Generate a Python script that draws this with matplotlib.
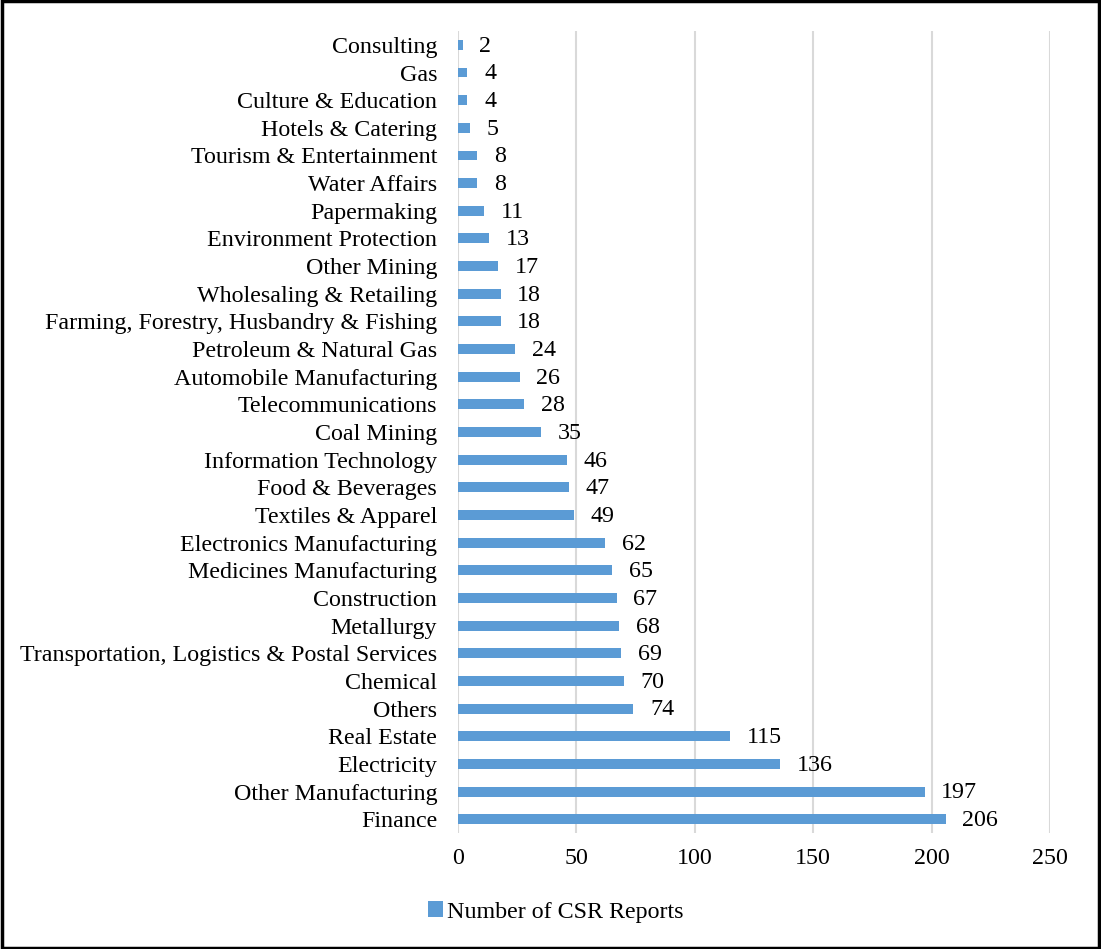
import matplotlib.pyplot as plt
from matplotlib.patches import Rectangle

industries = [
    "Finance", "Other Manufacturing", "Electricity", "Real Estate", "Others",
    "Chemical", "Transportation, Logistics & Postal Services", "Metallurgy",
    "Construction", "Medicines Manufacturing", "Electronics Manufacturing",
    "Textiles & Apparel", "Food & Beverages", "Information Technology",
    "Coal Mining", "Telecommunications", "Automobile Manufacturing",
    "Petroleum & Natural Gas", "Farming, Forestry, Husbandry & Fishing",
    "Wholesaling & Retailing", "Other Mining", "Environment Protection",
    "Papermaking", "Water Affairs", "Tourism & Entertainment",
    "Hotels & Catering", "Culture & Education", "Gas", "Consulting",
]
reports = [206, 197, 136, 115, 74, 70, 69, 68, 67, 65, 62, 49, 47, 46, 35,
           28, 26, 24, 18, 18, 17, 13, 11, 8, 8, 5, 4, 4, 2]
x_ticks = [0, 50, 100, 150, 200, 250]

plt.rcParams['font.family'] = ['Liberation Serif', 'DejaVu Serif']
bar_color = '#5B9BD5'
fs = 17.3

fig = plt.figure(figsize=(11.01, 9.49), dpi=100)
ax = fig.add_axes([0.416, 0.1222, 0.5377, 0.8451])

pos = list(range(len(industries)))
ax.barh(pos, reports, height=0.36, color=bar_color, zorder=3,
        label='Number of CSR Reports')

for p, v in zip(pos, reports):
    ax.annotate(str(v), (v, p), xytext=(12, -1), textcoords='offset points',
                ha='left', va='center', fontsize=fs, color='black')

ax.set_xlim(0, 250)
ax.set_ylim(-0.5, len(industries) - 0.5)
ax.set_xticks(x_ticks)
ax.set_yticks(pos)
ax.set_yticklabels(industries)
ax.tick_params(axis='both', length=0, labelsize=fs)
ax.tick_params(axis='y', pad=15)
ax.tick_params(axis='x', pad=11)
ax.grid(axis='x', color='#D9D9D9', linewidth=1.5, zorder=0)
for s in ax.spines.values():
    s.set_visible(False)

fig.legend(loc='center', bbox_to_anchor=(0.505, 0.039), frameon=False,
           fontsize=fs, handlelength=0.6, handleheight=0.6, handletextpad=0.2)

# black frame around the whole figure
fig.patches.append(Rectangle((0.0015, 0.0015), 0.997, 0.997,
                             transform=fig.transFigure, fill=False,
                             edgecolor='black', linewidth=2.5))

fig.savefig('out.png', dpi=100)
